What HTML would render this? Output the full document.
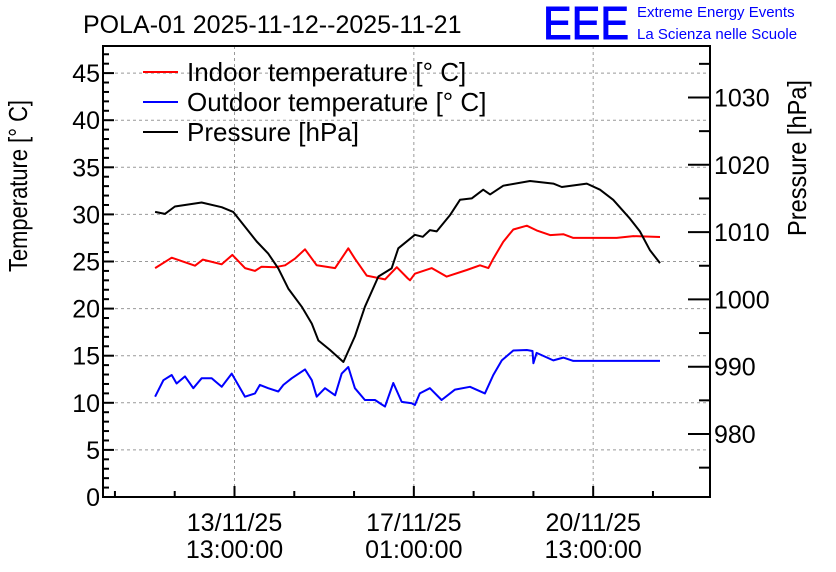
<!DOCTYPE html>
<html><head><meta charset="utf-8">
<style>
html,body{margin:0;padding:0;background:#fff;}
svg{display:block;font-family:"Liberation Sans",sans-serif;}
</style></head>
<body>
<svg id="chart" width="836" height="572" viewBox="0 0 836 572" xmlns="http://www.w3.org/2000/svg">
<rect width="836" height="572" fill="#fff"/>
<text x="83" y="33" font-size="25">POLA-01 2025-11-12--2025-11-21</text>
<text x="543" y="39" font-size="46" fill="#0000ff" stroke="#0000ff" stroke-width="1" textLength="86" lengthAdjust="spacingAndGlyphs">EEE</text>
<text x="637" y="17" font-size="15" fill="#0000ff">Extreme Energy Events</text>
<text x="637" y="39" font-size="15" fill="#0000ff">La Scienza nelle Scuole</text>
<text transform="translate(27,186) rotate(-90)" text-anchor="middle" font-size="26" textLength="172" lengthAdjust="spacingAndGlyphs">Temperature [° C]</text>
<text transform="translate(806,158) rotate(-90)" text-anchor="middle" font-size="26" textLength="156" lengthAdjust="spacingAndGlyphs">Pressure [hPa]</text>
<g id="grid"></g>
<g id="series"></g>
<g id="axes"></g>
<g>
<line x1="143" y1="72" x2="178" y2="72" stroke="#ff0000" stroke-width="2"/>
<text x="187" y="81" font-size="26">Indoor temperature [° C]</text>
<line x1="143" y1="102" x2="178" y2="102" stroke="#0000ff" stroke-width="2"/>
<text x="187" y="111" font-size="26">Outdoor temperature [° C]</text>
<line x1="143" y1="132" x2="178" y2="132" stroke="#000" stroke-width="2"/>
<text x="187" y="141" font-size="26">Pressure [hPa]</text>
</g>
</svg>
<script>
// hours relative to 13/11/25 13:00
const indoorT = [-37.2,-29.4,-18.5,-14.8,-6.0,-1.0,4.9,9.6,12.7,19.0,23.7,28.3,33.0,38.5,47.1,53.3,56.4,61.9,70.5,76.0,81.2,82.2,84.5,92.4,99.4,108.8,115.0,118.9,121.2,125.9,130.6,136.9,141.5,147.8,154.0,158.7,179.0,186.8,199.3];
const indoorV = [24.3,25.4,24.55,25.2,24.7,25.7,24.3,24.0,24.45,24.4,24.6,25.3,26.3,24.6,24.3,26.4,25.3,23.5,23.1,24.4,23.2,23.0,23.7,24.3,23.4,24.1,24.6,24.3,25.3,27.1,28.4,28.8,28.3,27.8,27.9,27.5,27.5,27.7,27.6];
const outdoorT = [-37.2,-33.3,-29.4,-27.1,-23.2,-19.3,-15.4,-10.7,-6.0,-1.3,1.0,4.9,9.6,11.9,15.8,20.5,22.9,26.8,33.0,36.2,38.5,42.4,47.1,50.2,53.3,56.4,61.1,65.8,70.5,74.4,78.3,83.0,84.5,86.8,91.5,97.0,103.3,110.3,117.3,121.2,125.2,130.6,136.9,139.6,140.0,141.5,149.3,154.0,158.7,199.3];
const outdoorV = [10.65,12.4,12.95,12.05,12.8,11.55,12.6,12.6,11.7,13.1,12.2,10.65,11.0,11.9,11.55,11.2,11.9,12.6,13.55,12.4,10.65,11.55,10.8,13.1,13.8,11.55,10.3,10.3,9.6,12.1,10.1,9.95,9.77,11.0,11.55,10.3,11.4,11.7,11.0,12.95,14.5,15.55,15.6,15.5,14.2,15.3,14.5,14.8,14.45,14.45];
const pressT = [-37.2,-32.6,-27.9,-15.4,-6.0,-0.6,4.9,10.4,15.8,20.5,25.2,31.5,36.2,39.3,44.7,51.0,56.4,61.1,67.4,73.6,76.7,84.5,88.2,91.5,94.7,100.9,105.6,111.1,116.5,119.7,125.9,138.4,149.3,153.3,165.0,171.2,177.4,185.2,189.9,194.6,199.3];
const pressV = [1013.0,1012.7,1013.8,1014.4,1013.7,1013.0,1010.8,1008.6,1006.8,1004.6,1001.6,998.9,996.4,993.9,992.5,990.7,994.5,998.9,1003.4,1004.6,1007.6,1009.6,1009.3,1010.3,1010.1,1012.5,1014.8,1015.0,1016.3,1015.6,1016.9,1017.6,1017.2,1016.7,1017.2,1016.3,1014.8,1012.0,1010.1,1007.3,1005.4];
const tempTicks = [0,5,10,15,20,25,30,35,40,45];
const pressTicks = [980,990,1000,1010,1020,1030];
const xMajorHours = [0,84,168];
const xLabels1 = ["13/11/25","17/11/25","20/11/25"];
const xLabels2 = ["13:00:00","01:00:00","13:00:00"];

const L=103,R=710,T=46,B=497;
const xOf=h=>234.5+h*2.135;
const yT=t=>B-t*9.42;
const yP=p=>434-(p-980)*6.73;
const NS="http://www.w3.org/2000/svg";
function mk(parent,tag,attrs){const e=document.createElementNS(NS,tag);for(const k in attrs)e.setAttribute(k,attrs[k]);document.getElementById(parent).appendChild(e);return e;}

tempTicks.forEach(t=>{if(t===0)return;
 const g=mk('grid','line',{x1:L,x2:R,y1:yT(t),y2:yT(t),stroke:'#999','stroke-dasharray':'3,3','stroke-width':1});
 
 
});
xMajorHours.forEach(h=>{
 const g=mk('grid','line',{x1:xOf(h),x2:xOf(h),y1:T,y2:B,stroke:'#999','stroke-dasharray':'3,3','stroke-width':1});
 
 
});

function series(ts,vs,yf,color,name){
 const d=ts.map((t,i)=>(i?'L':'M')+xOf(t).toFixed(1)+','+yf(vs[i]).toFixed(1)).join(' ');
 const p=mk('series','path',{d:d,fill:'none',stroke:color,'stroke-width':2,'stroke-linejoin':'round'});
 
 
}
series(indoorT,indoorV,yT,'#ff0000','indoor-temperature-line');
series(outdoorT,outdoorV,yT,'#0000ff','outdoor-temperature-line');
series(pressT,pressV,yP,'#000000','pressure-line');

const fr=mk('axes','rect',{x:L,y:T,width:R-L,height:B-T,fill:'none',stroke:'#000','stroke-width':2});


for(let t=0;t<=47;t++){
 const len=(t%5===0)?11:6;
 mk('axes','line',{x1:L,x2:L+len,y1:yT(t),y2:yT(t),stroke:'#000','stroke-width':2});
}
tempTicks.forEach(t=>{
 const tx=mk('axes','text',{x:L-3,y:yT(t)+9,'text-anchor':'end','font-size':25});
 tx.textContent=t;
 
 
});
for(let p=975;p<=1035;p+=5){
 const len=(p%10===0)?22:11;
 mk('axes','line',{x1:R-len,x2:R,y1:yP(p),y2:yP(p),stroke:'#000','stroke-width':2});
}
pressTicks.forEach(p=>{
 const tx=mk('axes','text',{x:R+4,y:yP(p)+9,'font-size':25});
 tx.textContent=p;
 
 
});
for(let h=-56;h<=196;h+=28){
 const len=(h%84===0)?11:6;
 mk('axes','line',{x1:xOf(h),x2:xOf(h),y1:B-len,y2:B,stroke:'#000','stroke-width':2});
}
xMajorHours.forEach((h,i)=>{
 const a=mk('axes','text',{x:xOf(h),y:531,'text-anchor':'middle','font-size':25});
 a.textContent=xLabels1[i];
 
 
 const b=mk('axes','text',{x:xOf(h),y:558,'text-anchor':'middle','font-size':25});
 b.textContent=xLabels2[i];
 
 
});
</script>
</body></html>
